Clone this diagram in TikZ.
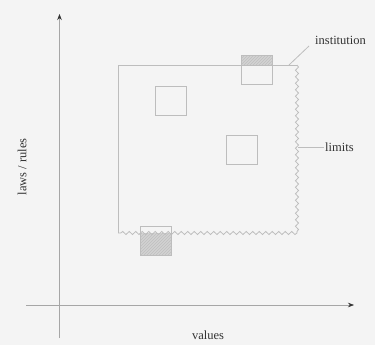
\documentclass[tikz,border=0pt]{standalone}
\usepackage{fontspec}
\setmainfont{Liberation Serif}
\usetikzlibrary{decorations.pathmorphing,arrows.meta,patterns}
\definecolor{bgc}{HTML}{F4F4F4}
\definecolor{lnc}{HTML}{BDBDBD}
\definecolor{shc}{HTML}{D2D2D2}
\tikzset{
  ln/.style={draw=lnc, line width=0.8pt},
  sq/.style={ln, rectangle, minimum width=31pt, minimum height=29pt, inner sep=0pt},
  wavy/.style={ln, decorate, decoration={snake, amplitude=1.5pt, segment length=6.5pt}},
  lbl/.style={font=\fontsize{12.5}{14}\selectfont, text=black!80, inner sep=1pt},
  shade/.style={fill=shc, postaction={pattern=north east lines, pattern color=black!25}},
  axis/.style={draw=black!35, line width=0.6pt, -{Stealth[length=6pt,width=4.5pt,black!80]}}
}
\begin{document}
\begin{tikzpicture}[x=1pt,y=-1pt]
\fill[bgc] (0,0) rectangle (375,345);
\useasboundingbox (0,0) rectangle (375,345);
% axes
\coordinate (yb) at (59.5,338);
\coordinate (yt) at (59.5,14);
\coordinate (xl) at (26,305);
\coordinate (xr) at (354,305);
\draw[axis] (yb) -- (yt);
\draw[axis] (xl) -- (xr);
\node[lbl, rotate=90] (ylab) at (22,167) {laws / rules};
\node[lbl] (xlab) at (208,335) {values};
% shaded parts of squares
\path[shade] (242,56) rectangle (272,65);
\path[shade] (140,233) rectangle (171,255);
% institution
\coordinate (tl) at (118,65);
\coordinate (tr) at (297,65);
\coordinate (br) at (297,233);
\coordinate (bl) at (118,233);
\draw[ln] (bl) -- (tl) -- (tr);
\draw[wavy] (tr) -- (br);
\draw[wavy] (br) -- (bl);
% squares
\node[sq] (s1) at (257,70) {};
\node[sq] (s2) at (170.5,101) {};
\node[sq] (s3) at (241.5,149.5) {};
\node[sq] (s4) at (155.5,240.5) {};
% labels
\node[lbl, anchor=west] (inst) at (314,40) {institution};
\coordinate (ia) at (289,65);
\coordinate (ib) at (309,46);
\draw[ln] (ia) -- (ib);
\node[lbl, anchor=west] (lim) at (324,147) {limits};
\coordinate (la) at (298,147);
\draw[ln] (la) -- (lim.west);
\end{tikzpicture}
\end{document}
